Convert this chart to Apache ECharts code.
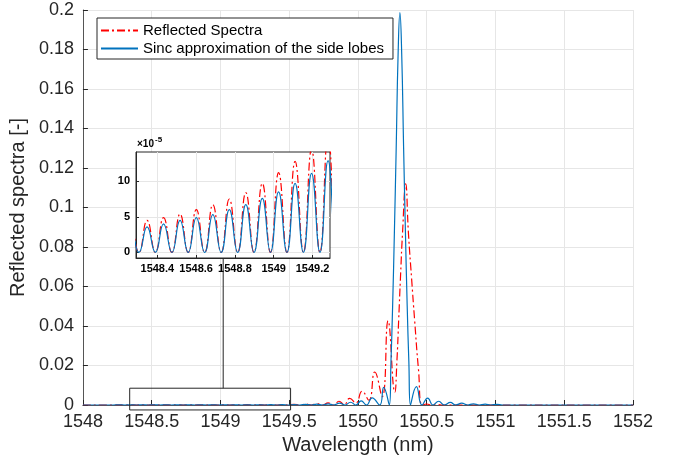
<!DOCTYPE html>
<html><head><meta charset="utf-8">
<script src="https://cdn.jsdelivr.net/npm/echarts@6/dist/echarts.min.js"></script>
<style>html,body{margin:0;padding:0;background:#fff}#c{width:674px;height:463px}</style>
</head><body><div id="c"></div>
<script>
const seriesNames = ['Reflected Spectra', 'Sinc approximation of the side lobes'];

const redWl = [1548.000,1548.220,1548.262,1548.305,1548.347,1548.390,1548.432,1548.475,1548.517,1548.559,
  1548.601,1548.644,1548.686,1548.729,1548.771,1548.814,1548.856,1548.898,1548.941,1548.983,
  1549.025,1549.068,1549.110,1549.153,1549.195,1549.238,1549.280,1549.322,1549.365,1549.407,
  1549.450,1549.492,1549.535,1549.577,1549.620,1549.660,1549.700,1549.742,1549.783,1549.825,
  1549.862,1549.900,1549.940,1549.985,1550.030,1550.079,1550.122,1550.176,1550.219,1550.268,
  1550.283,1550.296,1550.310,1550.324,1550.347,1550.367,1550.390,1550.412,1550.440,1550.468,
  1550.500,1550.535,1550.570,1550.605,1552.000];
const redVal = [0,0,4.1e-5,0,4.5e-5,0,4.9e-5,0,5.4e-5,0,
  6.0e-5,0,6.7e-5,0,7.5e-5,0,8.4e-5,0,9.7e-5,0,
  11.2e-5,0,12.8e-5,0,14.5e-5,0,16.5e-5,0,19e-5,0,
  24e-5,0,32e-5,0,45e-5,0,70e-5,0,0.0011,0,
  0.0019,0.0002,0.0034,0.0010,0.0070,0.0024,0.0167,0.0042,0.0426,0.0065,
  0.022,0.043,0.066,0.087,0.112,0.087,0.064,0.043,0.018,0,
  0.0005,0,0.0003,0,0];

const blueWl = [1548.000,1548.220,1548.262,1548.305,1548.347,1548.390,1548.432,1548.475,1548.517,1548.559,
  1548.601,1548.644,1548.686,1548.729,1548.771,1548.814,1548.856,1548.898,1548.941,1548.983,
  1549.025,1549.068,1549.110,1549.153,1549.195,1549.238,1549.280,1549.322,1549.365,1549.407,
  1549.450,1549.492,1549.535,1549.577,1549.620,1549.660,1549.700,1549.742,1549.783,1549.825,
  1549.866,1549.905,1549.946,1549.985,1550.023,1550.062,1550.103,1550.158,1550.187,1550.228,
  1550.240,1550.252,1550.265,1550.278,1550.292,1550.305,1550.318,1550.332,1550.345,1550.358,
  1550.370,1550.382,1550.425,1550.466,1550.507,1550.546,1550.587,1550.628,1550.672,1550.710,
  1550.755,1550.795,1550.840,1550.880,1550.925,1550.965,1551.010,1551.050,1552.000];
const blueVal = [0,0,3.3e-5,0,3.6e-5,0,4.0e-5,0,4.5e-5,0,
  4.9e-5,0,5.3e-5,0,6.0e-5,0,6.7e-5,0,7.6e-5,0,
  8.5e-5,0,9.7e-5,0,11.1e-5,0,12.9e-5,0,15e-5,0,
  18e-5,0,23e-5,0,30e-5,0,40e-5,0,58e-5,0,
  0.0009,0,0.0014,0,0.0021,0,0.0036,0,0.0089,0,
  0.022,0.050,0.088,0.130,0.178,0.1987,0.178,0.130,0.088,0.050,
  0.022,0,0.0093,0,0.0035,0,0.0019,0,0.0013,0,
  0.0009,0,0.0006,0,0.00045,0,0.0003,0,0];

const insetXTicks = [1548.4, 1548.6, 1548.8, 1549, 1549.2];
const insetYTicks = [0, 5e-5, 10e-5];
const insetXRange = [1548.29, 1549.29];
const insetYRange = [-0.78e-5, 14.1e-5];
const zoomBox = [1548.34, 1549.51, -0.0025, 0.0085];
const connectorX = 1549.02;

const FONT = '"Liberation Sans", Helvetica, Arial, sans-serif';
const TXT = '#262626';
const redPairs = redWl.map((w, i) => [w, redVal[i]]);
const bluePairs = blueWl.map((w, i) => [w, blueVal[i]]);

const chart = echarts.init(document.getElementById('c'), null, {renderer: 'canvas'});
const redStyle = {color: '#ff0000', width: 1.2, type: [8, 3, 2, 3]};
const blueStyle = {color: '#0072bd', width: 1.2};

chart.setOption({
  animation: false,
  backgroundColor: '#fff',
  textStyle: {fontFamily: FONT},
  grid: [
    {left: 81, right: 41, top: 10, bottom: 58},
    {left: 136, top: 152, width: 194, height: 106, show: true, backgroundColor: '#fff',
     borderColor: '#262626', borderWidth: 1, z: 3}
  ],
  legend: {
    data: seriesNames, orient: 'vertical', left: 97, top: 18,
    itemWidth: 37, itemHeight: 15, itemGap: 3, padding: [5, 9, 3, 3],
    borderColor: '#262626', borderWidth: 1, backgroundColor: '#fff',
    itemStyle: {opacity: 0},
    textStyle: {fontSize: 15, color: '#000', fontFamily: FONT},
    selectedMode: false, z: 10
  },
  xAxis: [
    {type: 'value', gridIndex: 0, min: 1548, max: 1552, interval: 0.5,
     name: 'Wavelength (nm)', nameLocation: 'middle', nameGap: 26,
     nameTextStyle: {fontSize: 20, color: TXT, fontFamily: FONT},
     axisLine: {show: true, onZero: false, lineStyle: {color: '#555', width: 1}},
     axisTick: {show: true, inside: true, length: 5, lineStyle: {color: '#262626'}},
     axisLabel: {fontSize: 18, color: TXT, margin: 8, fontFamily: FONT, formatter: v => String(v)},
     splitLine: {show: true, lineStyle: {color: '#e6e6e6', width: 1}}},
    {type: 'value', gridIndex: 1, min: insetXRange[0], max: insetXRange[1], z: 4,
     axisLine: {show: true, onZero: false, lineStyle: {color: '#262626', width: 1}},
     axisTick: {show: true, inside: true, length: 3, customValues: insetXTicks, lineStyle: {color: '#262626'}},
     axisLabel: {fontSize: 11, fontWeight: 'bold', color: '#000', margin: 5, fontFamily: FONT,
                 customValues: insetXTicks, formatter: v => String(Number(v.toFixed(1)))},
     splitLine: {show: true, lineStyle: {color: '#e6e6e6', width: 1}}}
  ],
  yAxis: [
    {type: 'value', gridIndex: 0, min: 0, max: 0.2, interval: 0.02,
     name: 'Reflected spectra [-]', nameLocation: 'middle', nameGap: 45, nameRotate: 90,
     nameTextStyle: {fontSize: 20, color: TXT, fontFamily: FONT},
     axisLine: {show: true, onZero: false, lineStyle: {color: '#555', width: 1}},
     axisTick: {show: true, inside: true, length: 5, lineStyle: {color: '#262626'}},
     axisLabel: {fontSize: 18, color: TXT, margin: 9, fontFamily: FONT,
                 formatter: v => String(Number(v.toFixed(2)))},
     splitLine: {show: true, lineStyle: {color: '#e6e6e6', width: 1}}},
    {type: 'value', gridIndex: 1, min: insetYRange[0], max: insetYRange[1], z: 4,
     axisLine: {show: true, onZero: false, lineStyle: {color: '#262626', width: 1}},
     axisTick: {show: true, inside: true, length: 3, customValues: insetYTicks, lineStyle: {color: '#262626'}},
     axisLabel: {fontSize: 11, fontWeight: 'bold', color: '#000', margin: 6, fontFamily: FONT,
                 customValues: insetYTicks, formatter: v => String(Math.round(v * 1e5))},
     splitLine: {show: true, lineStyle: {color: '#e6e6e6', width: 1}}}
  ],
  series: [
    {type: 'line', name: seriesNames[0], xAxisIndex: 0, yAxisIndex: 0, data: redPairs,
     symbol: 'none', showSymbol: false, smooth: 0.5, lineStyle: redStyle, itemStyle: {color: '#ff0000'}, z: 2},
    {type: 'line', name: seriesNames[1], xAxisIndex: 0, yAxisIndex: 0, data: bluePairs,
     symbol: 'none', showSymbol: false, smooth: 0.5, lineStyle: blueStyle, itemStyle: {color: '#0072bd'}, z: 2},
    {type: 'line', name: seriesNames[0], xAxisIndex: 1, yAxisIndex: 1, data: redPairs,
     symbol: 'none', showSymbol: false, smooth: 0.5, lineStyle: redStyle, itemStyle: {color: '#ff0000'}, z: 5, clip: true},
    {type: 'line', name: seriesNames[1], xAxisIndex: 1, yAxisIndex: 1, data: bluePairs,
     symbol: 'none', showSymbol: false, smooth: 0.5, lineStyle: blueStyle, itemStyle: {color: '#0072bd'}, z: 5, clip: true}
  ]
});

const mainRef = {xAxisIndex: 0, yAxisIndex: 0};
const bTL = chart.convertToPixel(mainRef, [zoomBox[0], zoomBox[3]]);
const bBR = chart.convertToPixel(mainRef, [zoomBox[1], zoomBox[2]]);
const cBot = chart.convertToPixel(mainRef, [connectorX, zoomBox[3]]);
const insetTL = chart.convertToPixel({xAxisIndex: 1, yAxisIndex: 1}, [insetXRange[0], insetYRange[1]]);
const insetBL = chart.convertToPixel({xAxisIndex: 1, yAxisIndex: 1}, [insetXRange[0], insetYRange[0]]);

chart.setOption({
  graphic: [
    {type: 'rect', z: 6, shape: {x: bTL[0], y: bTL[1], width: bBR[0] - bTL[0], height: bBR[1] - bTL[1]},
     style: {fill: 'none', stroke: '#262626', lineWidth: 1}},
    {type: 'line', z: 6, shape: {x1: cBot[0], y1: cBot[1], x2: cBot[0], y2: insetBL[1]},
     style: {stroke: '#262626', lineWidth: 1}},
    {type: 'text', z: 6, x: insetTL[0] + 1, y: insetTL[1] - 3,
     style: {text: '×10', fontSize: 10, fontWeight: 'bold', fontFamily: FONT, fill: '#000', verticalAlign: 'bottom'}},
    {type: 'text', z: 6, x: insetTL[0] + 19, y: insetTL[1] - 8,
     style: {text: '-5', fontSize: 8, fontWeight: 'bold', fontFamily: FONT, fill: '#000', verticalAlign: 'bottom'}}
  ]
});
</script>
</body></html>
